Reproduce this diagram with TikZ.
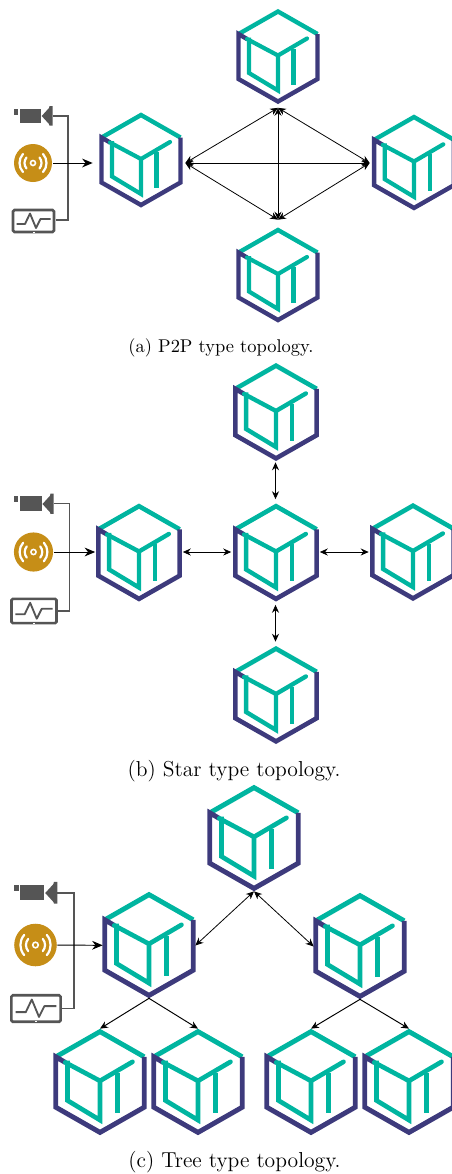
\documentclass[tikz,border=0pt]{standalone}
\usepackage{xcolor}
\usepackage{tikz}
\usetikzlibrary{arrows.meta,positioning,calc}

\definecolor{logoteal}{HTML}{00B5A0}
\definecolor{logoblue}{HTML}{3D3A7C}
\definecolor{discgold}{HTML}{C68E17}
\definecolor{icongray}{HTML}{555555}

\begin{document}
\begin{tikzpicture}[
    x=0.02cm, y=-0.02cm,
    logonode/.style={inner sep=0pt, minimum width=#1, minimum height=105*0.569pt},
    logonode/.default=88*0.569pt,
    iconnode/.style={inner sep=0pt, minimum width=#1, minimum height=10pt},
    caption/.style={inner sep=0pt, font=\fontsize{#1}{14}\selectfont},
    arrow/.style={-{Stealth[length=6pt,width=5pt]}, line width=0.55pt},
    biarrow/.style={{Stealth[length=4.5pt,width=4pt]}-{Stealth[length=4.5pt,width=4pt]}, line width=0.45pt},
    wire/.style={line width=0.6pt, draw=icongray},
    pics/logo/.style={code={
        \draw[logoteal, line width=#1*0.569pt, line cap=butt, miter limit=10]
            (-38.5,-23) -- (0,-45) -- (39.5,-22.5);
        \draw[logoblue, line width=#1*0.569pt, line join=miter, miter limit=10]
            (39.5,-22.5) -- (39.5,22.5) -- (0,45) -- (-39.5,22.5) -- (-39.5,-22.5) -- (-31,-17.5);
        \draw[logoteal, line width=#1*0.95*0.569pt, line cap=round]
            (-31,-17.5) -- (0,-1) -- (29,-18);
        \draw[logoteal, line width=#1*0.95*0.569pt, line join=miter]
            (-29,-19) -- (-29,16.5) -- (0,34) -- (0,-1);
        \draw[logoteal, line width=#1*0.95*0.569pt] (15.5,-8) -- (15.5,28);
    }},
    pics/camera/.style={code={
        \fill[icongray] (-19,-7.5) rectangle (-15,-1.5);
        \fill[icongray] (-13.5,-7.5) rectangle (8,6.5);
        \fill[icongray] (8.7,0) -- (16,-8) -- (16.5,-10) -- (19.5,-10) -- (19.5,9.5) -- (16.5,9.5) -- (16,8) -- cycle;
    }},
    pics/disc/.style={code={
        \fill[discgold] (0,0) circle (19);
        \draw[white, line width=0.9pt] (0,0) circle (2.5);
        \draw[white, line width=1.25pt, line cap=round]
            (-40:8.5) arc (-40:40:8.5) (140:8.5) arc (140:220:8.5)
            (-42:13.5) arc (-42:42:13.5) (138:13.5) arc (138:222:13.5);
    }},
    pics/screen/.style={code={
        \draw[icongray, line width=1.5pt, fill=white, rounded corners=0.8pt] (-20.5,-11) rectangle (20.5,11);
        \draw[icongray, line width=1.05pt, line join=round]
            (-17,3) -- (-8.5,3) -- (-3.5,-7.5) -- (2.5,7) -- (7,-2) -- (17,-2);
        \fill[white] (-1,10.5) rectangle (1,11.5);
    }}
]
\useasboundingbox (0,0) rectangle (452,1174);

% P2P
\pic[scale=1] at (141,160) {logo=4.4};
\pic[scale=1] at (278,56.5) {logo=4.4};
\pic[scale=1.01] at (414,162.5) {logo=4.4};
\pic[scale=1] at (278,275) {logo=4.4};
\node[logonode=92*0.569pt] (p2pleft) at (139,163) {};
\node[logonode] (p2ptop) at (278,55) {};
\node[logonode] (p2pright) at (414,163) {};
\node[logonode] (p2pbottom) at (278,272.5) {};

\pic at (33,116) {camera};
\pic at (33,163) {disc};
\pic at (33.5,221) {screen};
\node[iconnode=39*0.569pt] (p2pcam) at (33,116) {};
\node[iconnode=40*0.569pt] (p2pdisc) at (33,163) {};
\node[iconnode=44*0.569pt] (p2pmon) at (33.5,220) {};
\coordinate (p2pjoin) at (68,163);

\draw[wire] (p2pcam.east) -| (p2pjoin) |- (p2pmon.east);
\draw[arrow] (p2pdisc) -- (p2pleft);
\draw[biarrow] (p2pleft.east) -- (p2pright.west);
\draw[biarrow] (p2pleft.east) -- (p2ptop.south);
\draw[biarrow] (p2pleft.east) -- (p2pbottom.north);
\draw[biarrow] (p2ptop.south) -- (p2pbottom.north);
\draw[biarrow] (p2ptop.south) -- (p2pright.west);
\draw[biarrow] (p2pbottom.north) -- (p2pright.west);
\node[caption=10.5] (p2pcaption) at (221,348) {(a) P2P type topology.};

% Star
\pic[scale=1.03] at (139,552.5) {logo=4.6};
\pic[scale=1.03] at (276,552.5) {logo=4.6};
\pic[scale=1.03] at (413,552) {logo=4.6};
\pic[scale=1.03] at (276,412) {logo=4.6};
\pic[scale=1.03] at (276,695) {logo=4.6};
\node[logonode=87*0.569pt] (starleft) at (139,552) {};
\node[logonode=88*0.569pt] (starhub) at (275.5,552) {};
\node[logonode=88*0.569pt] (starright) at (413,552) {};
\node[logonode=88*0.569pt] (startop) at (275.5,409.5) {};
\node[logonode=88*0.569pt] (starbottom) at (275.5,694.5) {};

\pic[scale=1.03] at (33.5,504) {camera};
\pic[scale=1.03] at (33.5,552) {disc};
\pic[scale=1.1] at (34,611) {screen};
\node[iconnode=40*0.569pt] (starcam) at (33.5,503.5) {};
\node[iconnode=41*0.569pt] (stardisc) at (33.5,552) {};
\node[iconnode=46*0.569pt] (starmon) at (34,611) {};
\coordinate (starjoin) at (69.5,552);

\draw[wire] (starcam.east) -| (starjoin) |- (starmon.east);
\draw[arrow] (stardisc) -- (starleft);
\draw[biarrow] (starleft) -- (starhub);
\draw[biarrow] (starhub) -- (starright);
\draw[biarrow] (startop) -- (starhub);
\draw[biarrow] (starhub) -- (starbottom);
\node[caption=12.3] (starcaption) at (234,771) {(b) Star type topology.};

% Tree
\pic[scale=1.12] at (254,838) {logo=4.9};
\pic[scale=1.12] at (149,945) {logo=4.9};
\pic[scale=1.12] at (360,946) {logo=4.9};
\pic[scale=1.12] at (100,1082) {logo=4.9};
\pic[scale=1.12] at (198,1082) {logo=4.9};
\pic[scale=1.12] at (311,1082) {logo=4.9};
\pic[scale=1.12] at (409,1082) {logo=4.9};
\node[logonode=92*0.569pt] (treeroot) at (254,838.5) {};
\node[logonode=92*0.569pt] (treeleft) at (149,945.5) {};
\node[logonode=92*0.569pt] (treeright) at (360,946.5) {};
\node[logonode=92*0.569pt] (leafa) at (100,1081.5) {};
\node[logonode=92*0.569pt] (leafb) at (198,1081.5) {};
\node[logonode=92*0.569pt] (leafc) at (311,1081.5) {};
\node[logonode=92*0.569pt] (leafd) at (409,1081.5) {};

\pic[scale=1.12] at (35.5,893) {camera};
\pic[scale=1.12] at (35.5,945) {disc};
\pic[scale=1.2] at (36,1008.5) {screen};
\node[iconnode=43*0.569pt] (treecam) at (35.5,893) {};
\node[iconnode=43*0.569pt] (treedisc) at (35.5,945) {};
\node[iconnode=50*0.569pt] (treemon) at (36,1008.5) {};
\coordinate (treejoin) at (74,945);

\draw[wire] (treecam.east) -| (treejoin) |- (treemon.east);
\draw[arrow] (treedisc) -- (treeleft);
\draw[biarrow] (treeroot.south) -- (treeleft.east);
\draw[biarrow] (treeroot.south) -- (treeright.west);
\draw[arrow, -{Stealth[length=4.5pt,width=4pt]}] (treeleft.south) -- (leafa.north);
\draw[arrow, -{Stealth[length=4.5pt,width=4pt]}] (treeleft.south) -- (leafb.north);
\draw[arrow, -{Stealth[length=4.5pt,width=4pt]}] (treeright.south) -- (leafc.north);
\draw[arrow, -{Stealth[length=4.5pt,width=4pt]}] (treeright.south) -- (leafd.north);
\node[caption=12.3] (treecaption) at (234.5,1162) {(c) Tree type topology.};

\end{tikzpicture}
\end{document}
